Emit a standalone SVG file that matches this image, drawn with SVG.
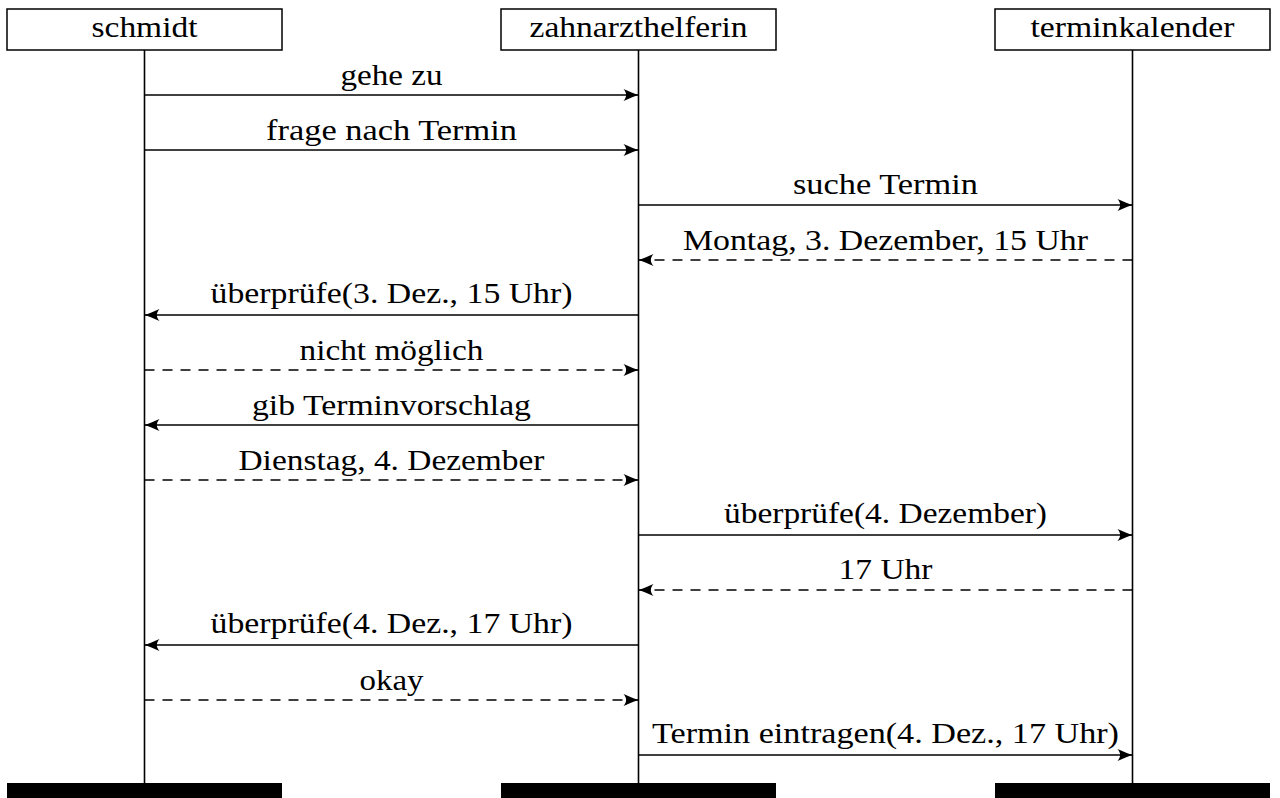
<svg xmlns="http://www.w3.org/2000/svg" width="1280" height="798" viewBox="0 0 1280 798">
  <style>
    .box { fill: #fff; stroke: #000; stroke-width: 1.5; }
    .life { stroke: #000; stroke-width: 1.6; fill: none; }
    .bar { fill: #000; }
    .lbl { font-family: "Liberation Serif", "Times New Roman", serif; font-size: 30px; fill: #000; text-anchor: middle; }
    .msg { stroke: #000; stroke-width: 1.6; fill: none; marker-end: url(#tip); }
    .ret { stroke-dasharray: 10 8; }
  </style>
  <defs>
    <!-- curved "to"-style arrow tip -->
    <marker id="tip" markerUnits="userSpaceOnUse" viewBox="-16 -7 17 14" refX="0" refY="0" markerWidth="17" markerHeight="14" orient="auto">
      <path d="M0.5,0 C-4,-1.2 -9.5,-3.6 -15,-6 C-11.5,-2.2 -11.5,2.2 -15,6 C-9.5,3.6 -4,1.2 0.5,0 Z" fill="#000"/>
    </marker>
  </defs>

  <rect width="1280" height="798" fill="#fff"/>

  <!-- participants: header box, lifeline, end bar -->
  <g id="schmidt">
    <line class="life" x1="144.5" y1="50" x2="144.5" y2="784"/>
    <rect class="box" x="7" y="9" width="275" height="41"/>
    <text class="lbl" x="144.5" y="37" textLength="106" lengthAdjust="spacingAndGlyphs">schmidt</text>
    <rect class="bar" x="7" y="783" width="275" height="15"/>
  </g>
  <g id="zahnarzthelferin">
    <line class="life" x1="638.5" y1="50" x2="638.5" y2="784"/>
    <rect class="box" x="501" y="9" width="275" height="41"/>
    <text class="lbl" x="638.5" y="37" textLength="218" lengthAdjust="spacingAndGlyphs">zahnarzthelferin</text>
    <rect class="bar" x="501" y="783" width="275" height="15"/>
  </g>
  <g id="terminkalender">
    <line class="life" x1="1132.5" y1="50" x2="1132.5" y2="784"/>
    <rect class="box" x="995" y="9" width="275" height="41"/>
    <text class="lbl" x="1132.5" y="37" textLength="204" lengthAdjust="spacingAndGlyphs">terminkalender</text>
    <rect class="bar" x="995" y="783" width="275" height="15"/>
  </g>

  <!-- messages -->
  <g id="connectors">
    <line class="msg" x1="144.5" y1="95" x2="638.5" y2="95"/>
    <line class="msg" x1="144.5" y1="150" x2="638.5" y2="150"/>
    <line class="msg" x1="638.5" y1="205" x2="1132.5" y2="205"/>
    <line class="msg ret" x1="1132.5" y1="260" x2="638.5" y2="260"/>
    <line class="msg" x1="638.5" y1="315" x2="144.5" y2="315"/>
    <line class="msg ret" x1="144.5" y1="370" x2="638.5" y2="370"/>
    <line class="msg" x1="638.5" y1="425" x2="144.5" y2="425"/>
    <line class="msg ret" x1="144.5" y1="480" x2="638.5" y2="480"/>
    <line class="msg" x1="638.5" y1="535" x2="1132.5" y2="535"/>
    <line class="msg ret" x1="1132.5" y1="590" x2="638.5" y2="590"/>
    <line class="msg" x1="638.5" y1="645" x2="144.5" y2="645"/>
    <line class="msg ret" x1="144.5" y1="700" x2="638.5" y2="700"/>
    <line class="msg" x1="638.5" y1="755" x2="1132.5" y2="755"/>
  </g>

  <!-- message labels -->
  <g id="labels">
    <text class="lbl" x="391.5" y="85" textLength="102" lengthAdjust="spacingAndGlyphs">gehe zu</text>
    <text class="lbl" x="391.5" y="140" textLength="251" lengthAdjust="spacingAndGlyphs">frage nach Termin</text>
    <text class="lbl" x="885.5" y="194" textLength="185" lengthAdjust="spacingAndGlyphs">suche Termin</text>
    <text class="lbl" x="885.5" y="250" textLength="405" lengthAdjust="spacingAndGlyphs">Montag, 3. Dezember, 15 Uhr</text>
    <text class="lbl" x="391.5" y="303" textLength="362" lengthAdjust="spacingAndGlyphs">überprüfe(3. Dez., 15 Uhr)</text>
    <text class="lbl" x="391.5" y="360" textLength="184" lengthAdjust="spacingAndGlyphs">nicht möglich</text>
    <text class="lbl" x="391.5" y="415" textLength="279" lengthAdjust="spacingAndGlyphs">gib Terminvorschlag</text>
    <text class="lbl" x="391.5" y="470" textLength="306" lengthAdjust="spacingAndGlyphs">Dienstag, 4. Dezember</text>
    <text class="lbl" x="885.5" y="523" textLength="323" lengthAdjust="spacingAndGlyphs">überprüfe(4. Dezember)</text>
    <text class="lbl" x="885.5" y="579" textLength="94" lengthAdjust="spacingAndGlyphs">17 Uhr</text>
    <text class="lbl" x="391.5" y="633" textLength="362" lengthAdjust="spacingAndGlyphs">überprüfe(4. Dez., 17 Uhr)</text>
    <text class="lbl" x="391.5" y="690" textLength="64" lengthAdjust="spacingAndGlyphs">okay</text>
    <text class="lbl" x="885.5" y="743" textLength="467" lengthAdjust="spacingAndGlyphs">Termin eintragen(4. Dez., 17 Uhr)</text>
  </g>
</svg>
